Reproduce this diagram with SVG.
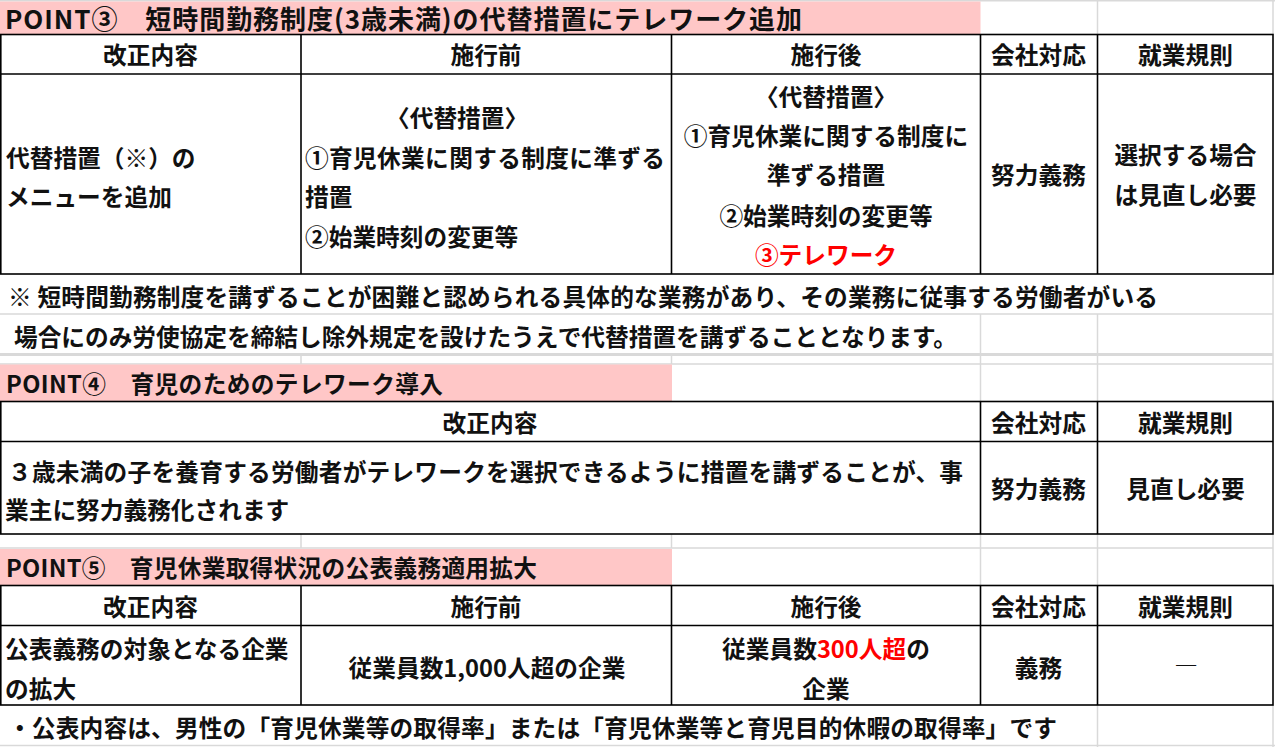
<svg xmlns="http://www.w3.org/2000/svg" width="1275" height="747" viewBox="0 0 1275 747">
<style>
.t{font-family:"Noto Sans CJK JP","Noto Sans CJK SC",sans-serif;font-weight:700;font-size:23.7px;fill:#111;dominant-baseline:central}
.c{text-anchor:middle}
.r{fill:#ff0000}
.pink{fill:#ffc7c7}
.g{stroke:#d9d9d9;stroke-width:1.5;fill:none}
.b{stroke:#000;stroke-width:1.6;fill:none}
</style>
<rect width="1275" height="747" fill="#fff"/>
<g id="gridlines">
<path class="g" d="M0 0.75H1275M1097.5 0V35M1273 0V35M0 314H1273M980.5 314V401M1097.5 314V401M1273 274V401M0 364H1273M301 355V364M671.5 355V364M980.5 534V585M1097.5 534V585M301 534V548M671.5 534V548M0 548H1273M1273 534V585M1097.5 705V747M1273 705V747M0 745.5H1275"/>
<rect x="0" y="353" width="1273" height="3" fill="#d9d9d9"/>
</g>
<g id="title3">
<rect class="pink" x="0" y="1.5" width="980.5" height="32.5"/>
<text class="t" x="5" y="17" style="font-size:26px" textLength="797">POINT③　短時間勤務制度(3歳未満)の代替措置にテレワーク追加</text>
</g>
<g id="table3">
<rect class="b" x="0.8" y="34.5" width="1272.2" height="239.5"/>
<path class="b" d="M0 74H1273M301 34.5V274M671.5 34.5V274M980.5 34.5V274M1097.5 34.5V274"/>
<text class="t c" x="150.5" y="54">改正内容</text>
<text class="t c" x="486" y="54">施行前</text>
<text class="t c" x="826" y="54">施行後</text>
<text class="t c" x="1038.5" y="54">会社対応</text>
<text class="t c" x="1185.5" y="54">就業規則</text>
<text class="t" x="6" y="157">代替措置（※）の</text>
<text class="t" x="6" y="196">メニューを追加</text>
<text class="t" x="386" y="117">〈代替措置〉</text>
<text class="t" x="305" y="157" textLength="360">①育児休業に関する制度に準ずる</text>
<text class="t" x="305" y="196">措置</text>
<text class="t" x="305" y="236">②始業時刻の変更等</text>
<text class="t c" x="826" y="96">〈代替措置〉</text>
<text class="t c" x="826" y="135">①育児休業に関する制度に</text>
<text class="t c" x="826" y="174">準ずる措置</text>
<text class="t c" x="826" y="215">②始業時刻の変更等</text>
<text class="t c r" x="826" y="254">③テレワーク</text>
<text class="t c" x="1038.5" y="174">努力義務</text>
<text class="t c" x="1185.5" y="154">選択する場合</text>
<text class="t c" x="1185.5" y="194">は見直し必要</text>
</g>
<g id="note3">
<text class="t" x="8" y="296" textLength="1150">※ 短時間勤務制度を講ずることが困難と認められる具体的な業務があり、その業務に従事する労働者がいる</text>
<text class="t" x="14" y="336" textLength="943">場合にのみ労使協定を締結し除外規定を設けたうえで代替措置を講ずることとなります。</text>
</g>
<g id="title4">
<rect class="pink" x="0" y="364.5" width="672" height="36.5"/>
<text class="t" x="6" y="383" textLength="437">POINT④　育児のためのテレワーク導入</text>
</g>
<g id="table4">
<rect class="b" x="0.8" y="401.5" width="1272.2" height="132.5"/>
<path class="b" d="M0 441.5H1273M980.5 401.5V534M1097.5 401.5V534"/>
<text class="t c" x="490" y="421.5">改正内容</text>
<text class="t c" x="1038.5" y="421.5">会社対応</text>
<text class="t c" x="1185.5" y="421.5">就業規則</text>
<text class="t" x="8" y="471" textLength="955">３歳未満の子を養育する労働者がテレワークを選択できるように措置を講ずることが、事</text>
<text class="t" x="5" y="509">業主に努力義務化されます</text>
<text class="t c" x="1038.5" y="488">努力義務</text>
<text class="t c" x="1185.5" y="488">見直し必要</text>
</g>
<g id="title5">
<rect class="pink" x="0" y="549" width="672" height="36"/>
<text class="t" x="6" y="567" textLength="531">POINT⑤　育児休業取得状況の公表義務適用拡大</text>
</g>
<g id="table5">
<rect class="b" x="0.8" y="585.5" width="1272.2" height="119.5"/>
<path class="b" d="M0 625.5H1273M301 585.5V705M671.5 585.5V705M980.5 585.5V705M1097.5 585.5V705"/>
<text class="t c" x="150.5" y="606">改正内容</text>
<text class="t c" x="486" y="606">施行前</text>
<text class="t c" x="826" y="606">施行後</text>
<text class="t c" x="1038.5" y="606">会社対応</text>
<text class="t c" x="1185.5" y="606">就業規則</text>
<text class="t" x="5" y="648">公表義務の対象となる企業</text>
<text class="t" x="5" y="688">の拡大</text>
<text class="t c" x="487" y="667">従業員数1,000人超の企業</text>
<text class="t c" x="826" y="648">従業員数<tspan class="r">300人超</tspan>の</text>
<text class="t c" x="826" y="688">企業</text>
<text class="t c" x="1038.5" y="667">義務</text>
<text class="t c" x="1186" y="664">―</text>
</g>
<g id="note5">
<text class="t" x="8" y="727" textLength="1049">・公表内容は、男性の「育児休業等の取得率」または「育児休業等と育児目的休暇の取得率」です</text>
</g>
</svg>
